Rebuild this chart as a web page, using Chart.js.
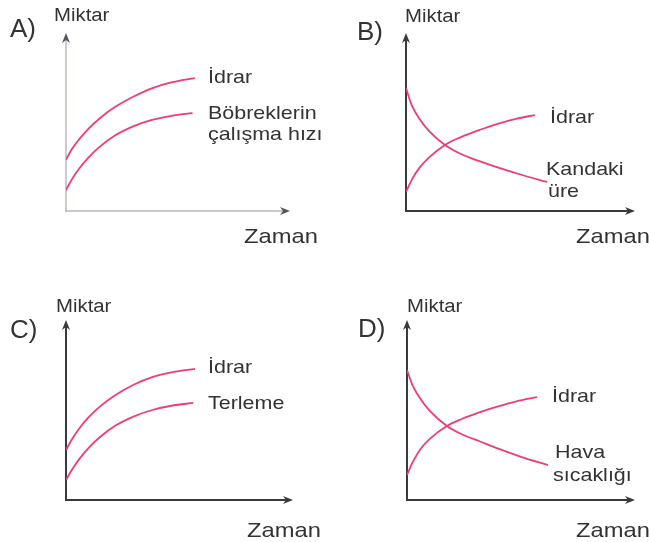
<!DOCTYPE html>
<html>
<head>
<meta charset="utf-8">
<script src="https://cdn.jsdelivr.net/npm/chart.js@4.4.1/dist/chart.umd.min.js"></script>
<style>
  body { margin: 0; background: #fff; }
  #wrap { position: relative; width: 649px; height: 542px; overflow: hidden; background: #fff; }
  canvas { position: absolute; }
  .lbl { position: absolute; font-family: "Liberation Sans", Arial, sans-serif; color: #333;
         line-height: 1; white-space: nowrap; transform: scaleX(1.13); transform-origin: left center; }
  .big { transform: none; }
</style>
</head>
<body>
<div id="wrap">
  <canvas id="chartA" width="324" height="262" style="left:0;top:0"></canvas>
  <canvas id="chartB" width="324" height="262" style="left:325px;top:0"></canvas>
  <canvas id="chartC" width="324" height="272" style="left:0;top:270px"></canvas>
  <canvas id="chartD" width="324" height="272" style="left:325px;top:270px"></canvas>
</div>
<script>
// --- data (x = zaman, y = miktar, both on a 0..10 scale) ---
var timeA_idrar   = [0, 0.25, 0.6, 1.0, 1.5, 2.2, 3.0, 3.8, 4.7, 5.75];
var miktarA_idrar = [2.87, 3.45, 4.05, 4.62, 5.2, 5.85, 6.42, 6.88, 7.22, 7.47];
var timeA_bobrek   = [0, 0.25, 0.6, 1.0, 1.5, 2.2, 3.0, 3.8, 4.7, 5.65];
var miktarA_bobrek = [1.18, 1.75, 2.4, 3.0, 3.6, 4.25, 4.75, 5.1, 5.35, 5.5];

var timeB_idrar   = [0, 0.25, 0.6, 1.0, 1.7, 2.4, 3.2, 4.0, 4.8, 5.63];
var miktarB_idrar = [1.07, 1.75, 2.45, 3.0, 3.71, 4.15, 4.55, 4.9, 5.18, 5.39];
var timeB_ure   = [0, 0.25, 0.6, 1.0, 1.7, 2.4, 3.2, 4.0, 5.0, 6.16];
var miktarB_ure = [6.91, 5.95, 5.15, 4.5, 3.71, 3.2, 2.8, 2.45, 2.05, 1.63];

var timeC_idrar   = [0, 0.25, 0.6, 1.0, 1.5, 2.2, 3.0, 3.8, 4.7, 5.68];
var miktarC_idrar = [2.78, 3.35, 4.0, 4.6, 5.2, 5.85, 6.42, 6.83, 7.1, 7.28];
var timeC_terleme   = [0, 0.25, 0.6, 1.0, 1.5, 2.2, 3.0, 3.8, 4.7, 5.6];
var miktarC_terleme = [1.11, 1.65, 2.3, 2.9, 3.5, 4.15, 4.65, 5.0, 5.25, 5.39];

var timeD_idrar   = [0, 0.25, 0.6, 1.0, 1.75, 2.4, 3.2, 4.0, 4.8, 5.7];
var miktarD_idrar = [1.39, 2.1, 2.85, 3.4, 4.11, 4.5, 4.88, 5.2, 5.48, 5.72];
var timeD_hava   = [0, 0.25, 0.6, 1.0, 1.75, 2.4, 3.2, 4.0, 5.0, 6.18];
var miktarD_hava = [7.22, 6.35, 5.6, 4.95, 4.11, 3.65, 3.25, 2.85, 2.4, 1.94];

var panelLetters = ["A)", "B)", "C)", "D)"];
var yTitle = "Miktar";
var xTitle = "Zaman";

var curveColor = "#f03c78";

function pts(xs, ys) {
  return xs.map(function(x, i) { return { x: x, y: ys[i] }; });
}

// draws both axes with arrow heads from the scales
var arrowAxes = {
  id: 'arrowAxes',
  beforeDatasetsDraw: function(chart, args, opts) {
    var ctx = chart.ctx;
    var xs = chart.scales.x, ys = chart.scales.y;
    var x0 = xs.getPixelForValue(0), x1 = xs.getPixelForValue(10);
    var y0 = ys.getPixelForValue(0), y1 = ys.getPixelForValue(10);
    ctx.save();
    ctx.strokeStyle = opts.lineColor;
    ctx.lineWidth = opts.lineWidth;
    ctx.beginPath();
    ctx.moveTo(x0, y0 + 1); ctx.lineTo(x0, y1 + 4);
    ctx.moveTo(x0 - 1, y0); ctx.lineTo(x1 - 4, y0);
    ctx.stroke();
    ctx.fillStyle = opts.headColor;
    ctx.beginPath();
    ctx.moveTo(x0, y1); ctx.lineTo(x0 - 4, y1 + 10); ctx.lineTo(x0, y1 + 7); ctx.lineTo(x0 + 4, y1 + 10);
    ctx.closePath(); ctx.fill();
    ctx.beginPath();
    ctx.moveTo(x1, y0); ctx.lineTo(x1 - 10, y0 - 4); ctx.lineTo(x1 - 7, y0); ctx.lineTo(x1 - 10, y0 + 4);
    ctx.closePath(); ctx.fill();
    ctx.restore();
  }
};

function makePanel(id, series, pad, axisOpts) {
  new Chart(document.getElementById(id).getContext("2d"), {
    type: 'line',
    data: {
      datasets: series.map(function(s) {
        return {
          data: s,
          borderColor: curveColor,
          borderWidth: 1.8,
          pointRadius: 0,
          fill: false,
          cubicInterpolationMode: 'monotone'
        };
      })
    },
    options: {
      responsive: false,
      animation: false,
      layout: { padding: pad },
      plugins: { legend: { display: false }, tooltip: { enabled: false }, arrowAxes: axisOpts },
      scales: {
        x: { type: 'linear', min: 0, max: 10, display: false },
        y: { type: 'linear', min: 0, max: 10, display: false }
      }
    },
    plugins: [arrowAxes]
  });
}

var darkAxes = { lineColor: "#3a3a3a", headColor: "#3a3a3a", lineWidth: 2 };
var lightAxes = { lineColor: "#bdb6cc", headColor: "#555", lineWidth: 1.5 };

makePanel("chartA", [pts(timeA_idrar, miktarA_idrar), pts(timeA_bobrek, miktarA_bobrek)],
  { left: 66, right: 34, top: 33, bottom: 51 }, lightAxes);
makePanel("chartB", [pts(timeB_idrar, miktarB_idrar), pts(timeB_ure, miktarB_ure)],
  { left: 81, right: 14, top: 33, bottom: 51 }, darkAxes);
makePanel("chartC", [pts(timeC_idrar, miktarC_idrar), pts(timeC_terleme, miktarC_terleme)],
  { left: 66, right: 31, top: 50, bottom: 42 }, darkAxes);
makePanel("chartD", [pts(timeD_idrar, miktarD_idrar), pts(timeD_hava, miktarD_hava)],
  { left: 82, right: 14, top: 50, bottom: 42 }, darkAxes);

// texts: [text, x, baseline, size, big]
var labels = [
  [panelLetters[0], 10, 37, 26, true], [panelLetters[1], 357, 40, 26, true],
  [panelLetters[2], 10, 338, 26, true], [panelLetters[3], 358, 337, 26, true],
  [yTitle, 54, 21, 18], [yTitle, 405, 22, 18], [yTitle, 56, 312, 18], [yTitle, 407, 312, 18],
  [xTitle, 244, 243, 21], [xTitle, 576, 243, 21], [xTitle, 247, 537, 21], [xTitle, 576, 537, 21],
  ["İdrar", 208, 83, 19], ["Böbreklerin", 208, 119, 19], ["çalışma hızı", 208, 140, 19],
  ["İdrar", 550, 123, 19], ["Kandaki", 546, 175, 19], ["üre", 548, 197, 19],
  ["İdrar", 208, 373, 19], ["Terleme", 208, 409, 19],
  ["İdrar", 552, 402, 19], ["Hava", 555, 458, 19], ["sıcaklığı", 553, 481, 19]
];
var wrap = document.getElementById("wrap");
labels.forEach(function(l) {
  var d = document.createElement("div");
  d.className = "lbl" + (l[4] ? " big" : "");
  d.textContent = l[0];
  d.style.fontSize = l[3] + "px";
  d.style.left = l[1] + "px";
  d.style.top = (l[2] - 0.8465 * l[3]) + "px";
  wrap.appendChild(d);
});
</script>
</body>
</html>
